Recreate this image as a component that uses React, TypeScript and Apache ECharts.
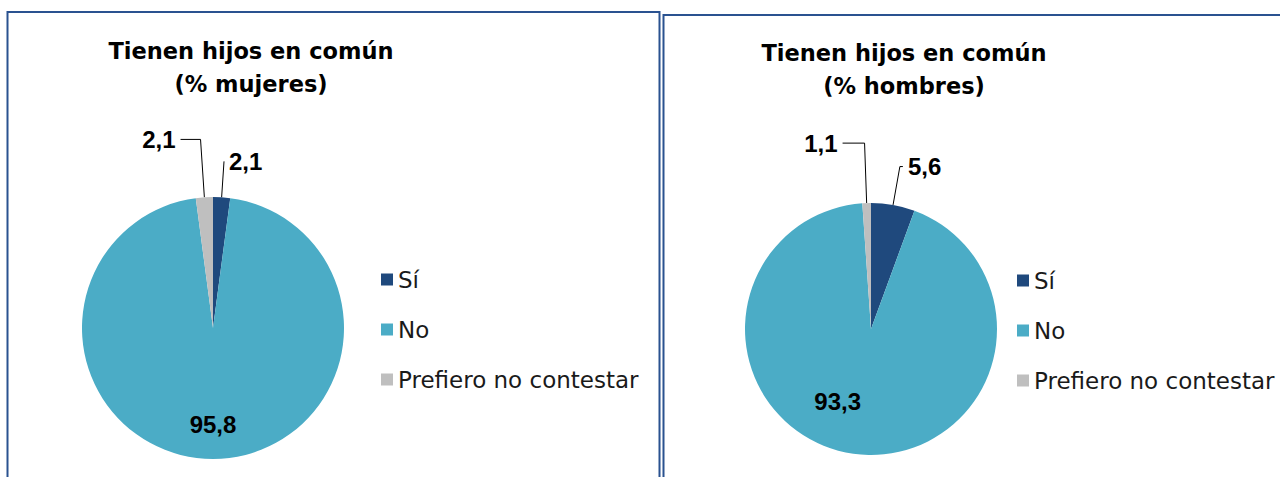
import React, { useEffect, useRef } from "react";
import * as echarts from "echarts";

// ---- data ----
const categories = ["Sí", "No", "Prefiero no contestar"];
const womenValues = [2.1, 95.8, 2.1];
const menValues = [5.6, 93.3, 1.1];
const chartTitles = [
  "Tienen hijos en común\n(% mujeres)",
  "Tienen hijos en común\n(% hombres)",
];

// ---- styles ----
const sliceColors = ["#1F497D", "#4BACC6", "#BFBFBF"];
const borderColor = "#2A5290";
// leader line [length, length2] per slice (null = label inside)
const womenLines: (number[] | null)[] = [[36, 0], null, [58, 20]];
const menLines: (number[] | null)[] = [[39, 3], null, [60, 22]];
// offset of the inside label from its default place
const womenInsideShift = [0, 28];
const menInsideShift = [-24, 7];

const fmt = (v: number) => v.toFixed(1).replace(".", ",");

function buildData(values: number[], lines: (number[] | null)[]) {
  return values.map((v, i) => ({
    name: categories[i],
    value: v,
    itemStyle: { color: sliceColors[i] },
    label: { position: lines[i] ? "outside" : "inside" },
    labelLine: lines[i]
      ? { show: true, length: lines[i]![0], length2: lines[i]![1] }
      : { show: false },
  }));
}

function pieSeries(
  values: number[],
  lines: (number[] | null)[],
  center: number[],
  radius: number,
  shift: number[]
) {
  return {
    type: "pie",
    center,
    radius,
    startAngle: 90,
    clockwise: true,
    avoidLabelOverlap: false,
    emphasis: { disabled: true },
    itemStyle: { borderWidth: 0 },
    label: {
      show: true,
      formatter: (p: any) => fmt(p.value),
      fontFamily: "Liberation Sans",
      fontWeight: "bold",
      fontSize: 24,
      color: "#000",
      distanceToLabelLine: 5,
    },
    labelLine: {
      minTurnAngle: 0,
      lineStyle: { color: "#000", width: 1 },
    },
    labelLayout: (p: any) => {
      if (p.dataIndex === 1) {
        return {
          x: p.labelRect.x + p.labelRect.width / 2 + shift[0],
          y: p.labelRect.y + p.labelRect.height / 2 + shift[1],
        };
      }
      return {};
    },
    data: buildData(values, lines),
  };
}

const legendText = {
  fontFamily: "DejaVu Sans",
  fontSize: 23,
  color: "#1a1a1a",
};

const titleText = {
  fontFamily: "DejaVu Sans",
  fontWeight: "bold",
  fontSize: 22.5,
  lineHeight: 33,
  color: "#000",
};

function legendAt(left: number, top: number) {
  return {
    orient: "vertical",
    left,
    top,
    padding: 0,
    itemWidth: 12,
    itemHeight: 12,
    itemGap: 27,
    icon: "rect",
    selectedMode: false,
    data: categories,
    textStyle: legendText,
  };
}

export default function App() {
  const ref = useRef<HTMLDivElement>(null);
  useEffect(() => {
    if (!ref.current) return;
    const chart = echarts.init(ref.current, null, { renderer: "svg" });
    chart.setOption({
      animation: false,
      backgroundColor: "#fff",
      title: [
        {
          text: chartTitles[0],
          left: 251,
          top: 34,
          textAlign: "center",
          padding: 0,
          textStyle: titleText,
        },
        {
          text: chartTitles[1],
          left: 904,
          top: 36,
          textAlign: "center",
          padding: 0,
          textStyle: titleText,
        },
      ],
      legend: [legendAt(381, 268), legendAt(1017, 269)],
      graphic: [
        {
          type: "rect",
          shape: { x: 7.5, y: 12, width: 652, height: 520 },
          style: { fill: "none", stroke: borderColor, lineWidth: 2 },
          silent: true,
        },
        {
          type: "rect",
          shape: { x: 663.5, y: 15, width: 700, height: 520 },
          style: { fill: "none", stroke: borderColor, lineWidth: 2 },
          silent: true,
        },
      ],
      series: [
        pieSeries(womenValues, womenLines, [213, 328], 131, womenInsideShift),
        pieSeries(menValues, menLines, [871, 329], 126, menInsideShift),
      ],
    });
    return () => chart.dispose();
  }, []);
  return (
    <div
      ref={ref}
      style={{ position: "absolute", left: 0, top: 0, width: 1280, height: 477 }}
    />
  );
}
